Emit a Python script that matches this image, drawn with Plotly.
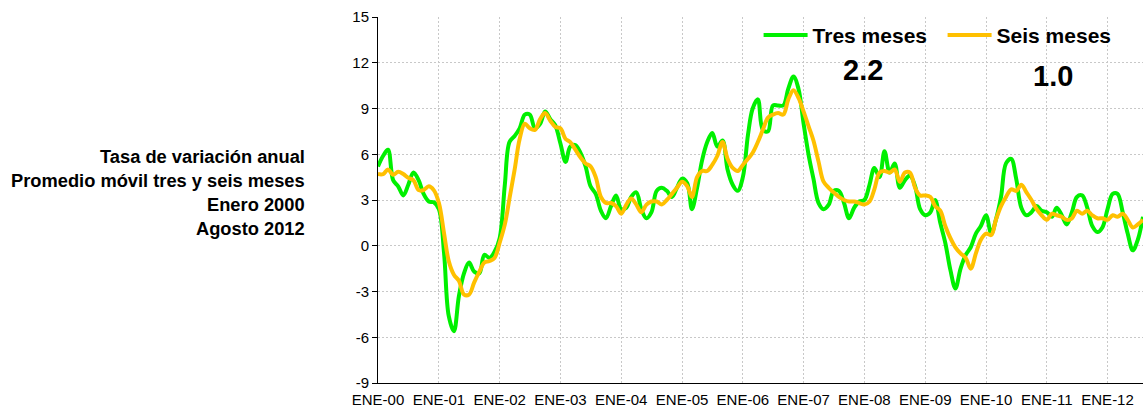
import pandas as pd
import plotly.graph_objects as go

# Monthly dates Jan 2000 .. Aug 2012
months = pd.date_range("2000-01-01", "2012-08-01", freq="MS")

tres_meses = [
    5.2, 5.9, 6.3, 4.3, 3.9, 3.3, 4.0, 4.8, 4.3, 3.4, 2.9, 2.85,
    2.4, -0.5, -4.6, -5.6, -3.3, -1.8, -1.1, -1.7, -1.8, -0.6, -0.8, -0.4,
    0.5, 4.0, 6.8, 7.2, 7.7, 8.6, 8.6, 7.7, 8.0, 8.8, 8.3, 7.9,
    6.7, 5.5, 6.5, 6.6, 6.1, 5.2, 3.9, 3.4, 2.3, 1.8, 2.6, 3.3,
    2.4, 2.5, 3.2, 3.5, 2.4, 1.8, 2.2, 3.6, 3.8, 3.6, 3.2, 3.8,
    4.4, 4.1, 2.4, 3.8, 5.6, 6.8, 7.4, 6.5, 6.9, 5.0, 4.0, 3.6,
    4.5, 7.3, 9.0, 9.6, 7.6, 7.5, 9.2, 9.2, 9.2, 10.3, 11.1, 10.3,
    8.0, 5.9, 4.4, 2.8, 2.4, 2.7, 3.6, 3.6, 2.8, 1.8, 2.5, 2.9,
    3.0, 4.0, 5.1, 4.5, 6.2, 4.8, 5.4, 3.8, 4.3, 4.6, 3.9, 2.4,
    2.0, 2.2, 3.0, 1.5, 0.2, -1.6, -2.8, -1.5, -0.6, -0.1, 0.8, 1.3,
    2.0, 0.8, 1.7, 3.2, 5.4, 5.7, 4.4, 2.5, 2.0, 2.2, 2.6, 2.3,
    2.2, 1.9, 2.5, 2.0, 1.4, 2.2, 3.2, 3.3, 2.5, 1.3, 0.9, 1.2,
    2.4, 3.4, 3.4, 2.2, 0.8, -0.3, 0.4, 1.9,
]

seis_meses = [
    4.7, 4.7, 5.0, 4.65, 4.85, 4.7, 4.45, 4.3, 3.65, 3.65, 3.9, 3.65,
    2.8, 0.8, -1.0, -1.9, -2.3, -3.2, -3.2, -2.4, -1.7, -1.1, -1.0, -0.8,
    0.2, 1.4, 3.1, 5.0, 7.0, 8.0, 7.7, 7.6, 8.3, 8.7, 8.2, 7.8,
    7.7, 7.0, 6.8, 6.3, 5.8, 5.4, 5.2, 4.5, 3.2, 2.8, 2.8, 2.6,
    2.1, 2.7, 3.1, 2.7, 2.2, 2.7, 2.9, 2.9, 2.7, 3.0, 3.4, 3.8,
    4.2, 3.9, 3.2, 4.5, 4.9, 4.9, 5.3, 5.9, 6.8, 5.7, 5.1, 4.9,
    5.3, 5.7, 6.1, 6.8, 7.6, 8.4, 8.6, 8.7, 8.6, 9.6, 10.2, 9.7,
    8.8, 7.8, 6.9, 5.5, 4.2, 3.8, 3.5, 3.2, 3.0, 2.9, 2.9, 2.8,
    2.7, 2.9, 3.7, 4.8, 4.9, 4.8, 5.0, 4.2, 4.8, 4.8, 3.8, 3.3,
    3.3, 3.2, 2.6, 2.3, 1.3, 0.5, -0.1, -0.5, -0.8, -1.5, -0.5, 0.4,
    0.8, 0.7, 1.7, 2.6, 3.2, 3.7, 3.6, 4.0, 3.5, 3.0, 2.4, 2.0,
    1.7, 2.1, 2.0, 1.9, 1.7, 1.8, 2.3, 2.1, 2.3, 2.0, 1.8, 1.8,
    1.7, 2.0, 1.9, 2.1, 1.7, 1.2, 1.4, 1.7,
]

tick_labels = ["ENE-00", "ENE-01", "ENE-02", "ENE-03", "ENE-04", "ENE-05", "ENE-06",
               "ENE-07", "ENE-08", "ENE-09", "ENE-10", "ENE-11", "ENE-12"]
tick_dates = pd.date_range("2000-01-01", "2012-01-01", freq="YS")

y_ticks = [-9, -6, -3, 0, 3, 6, 9, 12, 15]
y_tick_labels = ["-9", "-6", "-3", "0", "3", "6", "9", "12", "15"]

last_values = ["2.2", "1.0"]
side_text = ["Tasa de variación anual", "Promedio móvil tres y seis meses",
             "Enero 2000", "Agosto 2012"]

FONT = "Liberation Sans, Arial, sans-serif"

fig = go.Figure()
fig.add_trace(go.Scatter(x=months, y=tres_meses, name="Tres meses", mode="lines",
                         legendwidth=125,
                         line=dict(color="#00F000", width=4, shape="spline", smoothing=1)))
fig.add_trace(go.Scatter(x=months, y=seis_meses, name="Seis meses", mode="lines",
                         line=dict(color="#FFC000", width=4, shape="spline", smoothing=1)))

L, W_PLOT = 378, 765
T, H_PLOT = 17, 366

fig.update_layout(
    width=1143, height=413, autosize=False,
    margin=dict(l=L, r=1143 - L - W_PLOT, t=T, b=413 - T - H_PLOT, pad=0, autoexpand=False),
    paper_bgcolor="white", plot_bgcolor="white",
    font=dict(family=FONT, color="black"),
    showlegend=True,
    legend=dict(orientation="h", x=0.4975, y=0.95, xanchor="left", yanchor="middle",
                font=dict(size=21, family=FONT, color="black", weight="bold"),
                bgcolor="rgba(0,0,0,0)", itemwidth=44),
)

fig.update_xaxes(
    range=[months[0], months[-1]],
    tickvals=tick_dates, ticktext=tick_labels,
    tickfont=dict(size=15, family=FONT, color="black"),
    ticklabelstandoff=3,
    showline=True, linecolor="black", linewidth=1,
    showgrid=True, gridcolor="#C8C8C8", griddash="2px,2px", gridwidth=1,
    ticks="", zeroline=False,
)
fig.update_yaxes(
    range=[-9, 15], tickvals=y_ticks, ticktext=y_tick_labels,
    tickfont=dict(size=15, family=FONT, color="black"),
    showline=True, linecolor="black", linewidth=1,
    ticks="outside", ticklen=5, tickcolor="black",
    showgrid=True, gridcolor="#C8C8C8", griddash="2px,2px", gridwidth=1,
    zeroline=False,
)

# last values labels
fig.add_annotation(x=(863 - L) / W_PLOT, y=(T + H_PLOT - 70) / H_PLOT, xref="paper", yref="paper",
                   text=last_values[0], showarrow=False, xanchor="center", yanchor="middle",
                   font=dict(size=29, family=FONT, color="black", weight="bold"))
fig.add_annotation(x=(1053 - L) / W_PLOT, y=(T + H_PLOT - 76) / H_PLOT, xref="paper", yref="paper",
                   text=last_values[1], showarrow=False, xanchor="center", yanchor="middle",
                   font=dict(size=29, family=FONT, color="black", weight="bold"))

# side description
side_y_px = [156, 180, 204, 228]
for txt, ypx in zip(side_text, side_y_px):
    fig.add_annotation(x=(307 - L) / W_PLOT, y=(T + H_PLOT - ypx) / H_PLOT,
                       xref="paper", yref="paper", text=txt, showarrow=False,
                       xanchor="right", yanchor="middle",
                       font=dict(size=18.3, family=FONT, color="black", weight="bold"))

fig.write_html("out.html", config={"displayModeBar": False},
               post_script="document.body.style.margin='0';")
